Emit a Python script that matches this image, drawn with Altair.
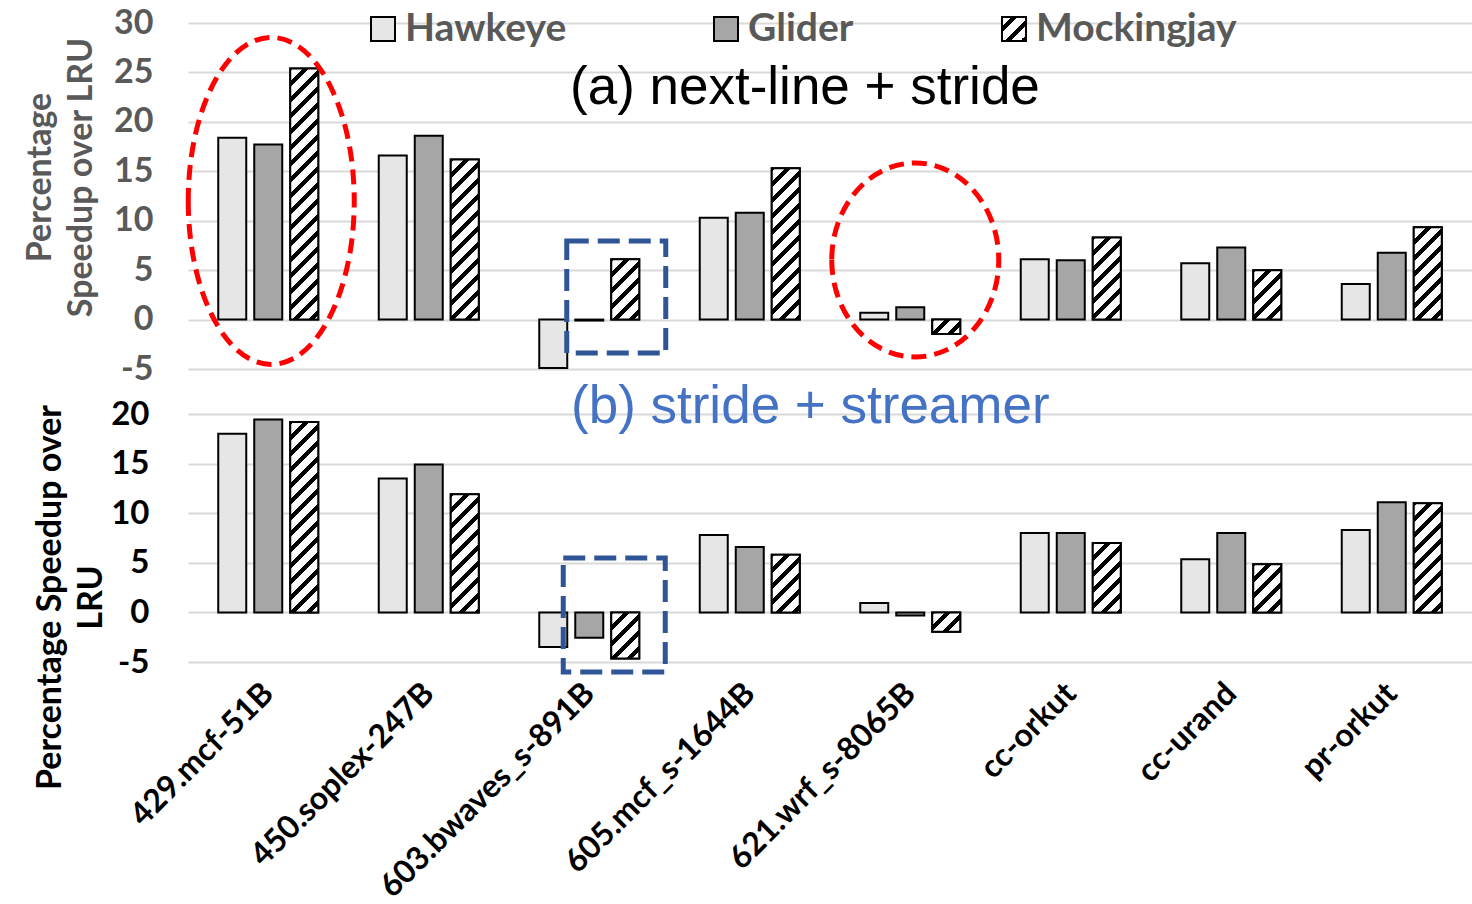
import altair as alt
import pandas as pd

# Benchmarks and replacement policies
benchmarks = ["429.mcf-51B", "450.soplex-247B", "603.bwaves_s-891B", "605.mcf_s-1644B",
              "621.wrf_s-8065B", "cc-orkut", "cc-urand", "pr-orkut"]
policies = ["Hawkeye", "Glider", "Mockingjay"]

# (a) next-line + stride prefetchers: speedup over LRU (%)
a_hawkeye = [18.4, 16.6, -4.9, 10.3, 0.7, 6.1, 5.7, 3.6]
a_glider = [17.7, 18.6, -0.1, 10.8, 1.25, 6.0, 7.3, 6.75]
a_mockingjay = [25.4, 16.2, 6.1, 15.3, -1.45, 8.3, 5.0, 9.35]

# (b) stride + streamer prefetchers: speedup over LRU (%)
b_hawkeye = [18.0, 13.5, -3.5, 7.8, 0.95, 8.0, 5.35, 8.3]
b_glider = [19.45, 14.9, -2.55, 6.6, -0.3, 8.0, 8.0, 11.1]
b_mockingjay = [19.2, 11.9, -4.65, 5.8, -1.95, 7.0, 4.85, 11.0]

top_ticks = [-5, 0, 5, 10, 15, 20, 25, 30]
bottom_ticks = [-5, 0, 5, 10, 15, 20]
panel_labels = ["(a) next-line + stride", "(b) stride + streamer"]
top_title = ["Percentage", "Speedup over LRU"]
bottom_title = ["Percentage Speedup over", "LRU"]

# Highlighted groups: (benchmark, y-centre) for ellipses and dashed boxes
top_ellipses = [("429.mcf-51B", 12.0), ("621.wrf_s-8065B", 6.03)]
top_box = ("603.bwaves_s-891B", 2.28)
bottom_box = ("603.bwaves_s-891B", -0.26)

# ---- layout / style ----
FONT = "Lato"
TEXT_FONT = "Liberation Sans"
PLOT_W, PLOT_H = 1284, 639
TOP_RANGE = [346, 0]
BOT_RANGE = [639, 391]
TOP_PX = (TOP_RANGE[0] - TOP_RANGE[1]) / (top_ticks[-1] - top_ticks[0])
BOT_PX = (BOT_RANGE[0] - BOT_RANGE[1]) / (bottom_ticks[-1] - bottom_ticks[0])
BAND = PLOT_W / len(benchmarks)
BAR_STEP, BAR_W = 36, 28
PAD_IN = (BAR_STEP - BAR_W) / BAR_STEP
PAD_OUT = (BAND / BAR_STEP - len(policies) + PAD_IN) / 2
FILLS = ["#E6E6E6", "#A6A6A6", "#FFFFFF"]
GRID = "#D9D9D9"
GRAY_TEXT = "#595959"
RED = "#FF0000"
BLUE = "#2F5597"
HATCH_PERIOD, HATCH_INK = 16.0, 6.0
PLAIN_NUMBER = "'' + datum.value"


def hatch(w, h, phase=3.0):
    """Diagonal '/' stripes as a hard-stop linear gradient for a w x h pixel box."""
    span = w + h
    stops = [{"offset": 0, "color": "white"}]
    start = -phase
    while start < span:
        a, b = max(start, 0.0), min(start + HATCH_INK, span)
        if b > a:
            oa, ob = round(a / span, 5), round(b / span, 5)
            stops += [{"offset": oa, "color": "white"}, {"offset": oa, "color": "black"},
                      {"offset": ob, "color": "black"}, {"offset": ob, "color": "white"}]
        start += HATCH_PERIOD
    stops.append({"offset": 1, "color": "white"})
    s = span / (w * w + h * h)
    return {"gradient": "linear", "x1": 0, "y1": 0, "x2": round(s * w, 5),
            "y2": round(s * h, 5), "stops": stops}


x_scale = alt.Scale(domain=benchmarks, paddingInner=0, paddingOuter=0)
xo_scale = alt.Scale(domain=policies, paddingInner=PAD_IN, paddingOuter=PAD_OUT)
top_scale = alt.Scale(domain=[top_ticks[0], top_ticks[-1]], range=TOP_RANGE, nice=False)
bot_scale = alt.Scale(domain=[bottom_ticks[0], bottom_ticks[-1]], range=BOT_RANGE, nice=False)

top_axis = alt.Axis(
    orient="left", values=top_ticks, labelExpr=PLAIN_NUMBER, titleFont=FONT, titleFontSize=34,
    titleFontWeight="bold", titleColor=GRAY_TEXT, titleAngle=270, titleAlign="center",
    titleBaseline="bottom", titleLineHeight=41, titleX=-131, titleY=154,
    labelFont=FONT, labelFontSize=34, labelFontWeight="bold", labelColor=GRAY_TEXT,
    labelPadding=35, labelFlush=False, labelOverlap=False, ticks=False, tickSize=0,
    domain=False, grid=True, gridColor=GRID, gridWidth=2,
)
bottom_axis = alt.Axis(
    orient="left", values=bottom_ticks, labelExpr=PLAIN_NUMBER, titleFont=FONT, titleFontSize=34,
    titleFontWeight="bold", titleColor="black", titleAngle=270, titleAlign="center",
    titleBaseline="bottom", titleLineHeight=41, titleX=-121, titleY=574,
    labelFont=FONT, labelFontSize=33, labelFontWeight="bold", labelColor="black",
    labelPadding=39, labelFlush=False, labelOverlap=False, ticks=False, tickSize=0,
    domain=False, grid=True, gridColor=GRID, gridWidth=2,
)
x_axis = alt.Axis(
    labelAngle=315, labelAlign="right", labelBaseline="middle", labelFont=FONT,
    labelFontSize=32, labelFontWeight="bold", labelColor="black", labelPadding=26,
    labelLimit=400, labelOverlap=False, ticks=False, tickSize=0, domain=False, grid=False,
)


def x_enc():
    return alt.X("bench:N", scale=x_scale, axis=x_axis, title="")


def y_enc(field, y_scale, y_axis, title):
    return alt.Y(field, scale=y_scale, axis=y_axis, title=title)


def long_table(hawk, glider, mock):
    rows = []
    for pol, vals in zip(policies, [hawk, glider, mock]):
        for bench, v in zip(benchmarks, vals):
            rows.append({"bench": bench, "policy": pol, "value": v})
    return pd.DataFrame(rows)


def panel_layers(hawk, glider, mock, y_scale, y_axis, title, px_per_unit):
    df = long_table(hawk, glider, mock)
    layers = [
        alt.Chart(df).mark_bar(stroke="black", strokeWidth=2).encode(
            x=x_enc(),
            xOffset=alt.XOffset("policy:N", scale=xo_scale),
            y=y_enc("value:Q", y_scale, y_axis, title),
            fill=alt.Fill("policy:N", scale=alt.Scale(domain=policies, range=FILLS), legend=None),
        )
    ]
    # hatched Mockingjay bars, one per benchmark
    for bench, v in zip(benchmarks, mock):
        h = max(abs(v) * px_per_unit, 1.0)
        one = pd.DataFrame({"bench": [bench], "policy": ["Mockingjay"], "value": [v]})
        layers.append(
            alt.Chart(one).mark_bar(fill=hatch(BAR_W, h), stroke="black", strokeWidth=2).encode(
                x=x_enc(),
                xOffset=alt.XOffset("policy:N", scale=xo_scale),
                y=y_enc("value:Q", y_scale, y_axis, title),
            )
        )
    return layers


def outline(bench, yc, y_scale, y_axis, title, path, size, color, dash, dx):
    d = pd.DataFrame({"bench": [bench], "value": [yc]})
    return alt.Chart(d).mark_point(
        shape=path, size=size, filled=False, stroke=color, strokeWidth=5,
        strokeDash=dash, opacity=1, xOffset=dx,
    ).encode(
        x=x_enc(),
        y=y_enc("value:Q", y_scale, y_axis, title),
    )


def ellipse_path(rx, ry):
    a = round(rx / ry, 4)
    return f"M {-a} 0 A {a} 1 0 1 0 {a} 0 A {a} 1 0 1 0 {-a} 0 Z"


def box_path(w, h):
    a = round(w / h, 4)
    return f"M {-a} -1 L {a} -1 L {a} 1 L {-a} 1 Z"


top_layers = panel_layers(a_hawkeye, a_glider, a_mockingjay, top_scale, top_axis, top_title, TOP_PX)
top_layers.append(outline(top_ellipses[0][0], top_ellipses[0][1], top_scale, top_axis, top_title,
                          ellipse_path(83, 163.5), (2 * 163.5) ** 2, RED, [15, 8], 3))
top_layers.append(outline(top_ellipses[1][0], top_ellipses[1][1], top_scale, top_axis, top_title,
                          ellipse_path(83.5, 97), (2 * 97) ** 2, RED, [15, 8], 5))
top_layers.append(outline(top_box[0], top_box[1], top_scale, top_axis, top_title,
                          box_path(99, 112), 112 ** 2, BLUE, [22, 9], 27))

bottom_layers = panel_layers(b_hawkeye, b_glider, b_mockingjay, bot_scale, bottom_axis,
                             bottom_title, BOT_PX)
bottom_layers.append(outline(bottom_box[0], bottom_box[1], bot_scale, bottom_axis, bottom_title,
                             box_path(102, 114), 114 ** 2, BLUE, [22, 9], 25))

top = alt.layer(*top_layers)
bottom = alt.layer(*bottom_layers)

# panel captions
captions = [
    alt.Chart(pd.DataFrame({"t": [panel_labels[0]]})).mark_text(
        font=TEXT_FONT, fontSize=53, color="black", align="left", baseline="alphabetic"
    ).encode(text="t:N", x=alt.value(382), y=alt.value(81)),
    alt.Chart(pd.DataFrame({"t": [panel_labels[1]]})).mark_text(
        font=TEXT_FONT, fontSize=53, color="#4472C4", align="left", baseline="alphabetic"
    ).encode(text="t:N", x=alt.value(383), y=alt.value(400)),
]

# legend drawn as marks so the hatch swatch can be shown
legend_x = [183, 526, 814]
legend_layers = []
SW = 24
for pol, lx, fill in zip(policies, legend_x, FILLS):
    d = pd.DataFrame({"t": [pol]})
    swatch_fill = hatch(SW, SW, phase=6.0) if pol == "Mockingjay" else fill
    legend_layers.append(
        alt.Chart(d).mark_rect(fill=swatch_fill, stroke="black", strokeWidth=2).encode(
            x=alt.value(lx), x2=alt.value(lx + SW), y=alt.value(-6), y2=alt.value(-6 + SW)
        )
    )
    legend_layers.append(
        alt.Chart(d).mark_text(
            font=FONT, fontSize=39, fontWeight="bold", color=GRAY_TEXT, align="left",
            baseline="alphabetic"
        ).encode(text="t:N", x=alt.value(lx + 34), y=alt.value(18))
    )

chart = alt.layer(top, bottom, *captions, *legend_layers).resolve_scale(
    y="independent"
).properties(
    width=PLOT_W,
    height=PLOT_H,
    padding={"left": 188, "top": 23, "right": 0, "bottom": 242},
    autosize=alt.AutoSizeParams(type="none"),
    background="white",
).configure_view(strokeWidth=0)

chart.save("out.html", embed_options={"renderer": "svg", "actions": False})
